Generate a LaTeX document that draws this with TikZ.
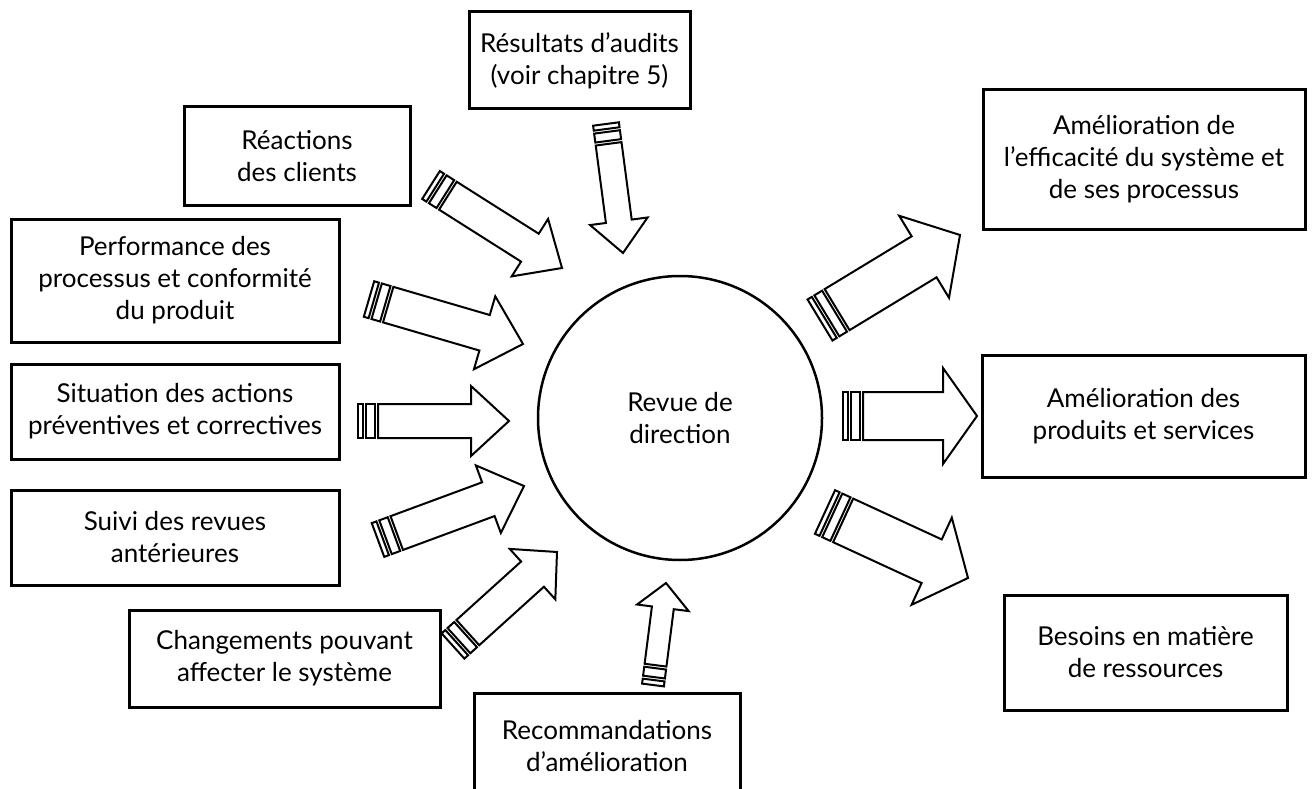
\documentclass[tikz,border=0pt]{standalone}
\usepackage{fontspec}
\setmainfont{Lato}
\usetikzlibrary{calc}
\newcommand\sarrow[5]{%
  \path let \p1=(#1), \p2=(#2) in \pgfextra{%
    \pgfmathsetmacro\tmpang{atan2(\y2-\y1,\x2-\x1)}%
    \pgfmathsetmacro\tmplen{veclen(\x2-\x1,\y2-\y1)}%
    \xdef\sang{\tmpang}\xdef\slen{\tmplen}};
  \begin{scope}[shift={(#1)}, rotate=\sang]
    \draw[sarr] (0,{-#3/2}) rectangle (5,{#3/2});
    \draw[sarr] (8,{-#3/2}) rectangle (17,{#3/2});
    \draw[sarr] (20,{-#3/2}) -- ({\slen-#5},{-#3/2}) -- ({\slen-#5},{-#4/2}) -- (\slen,0)
      -- ({\slen-#5},{#4/2}) -- ({\slen-#5},{#3/2}) -- (20,{#3/2}) -- cycle;
  \end{scope}}
\begin{document}
\begin{tikzpicture}[x=1pt,y=-1pt,
  box/.style={draw, line width=3pt, align=center, inner sep=0pt,
    font=\fontsize{26}{32}\selectfont},
  sarr/.style={draw, fill=white, line width=2pt, line join=miter}]
\useasboundingbox (0,0) rectangle (1312,789);
% boxes
\node[box, minimum width=221pt, minimum height=97pt] (res) at (579.5,60.5) {Résultats d’audits\\(voir chapitre 5)};
\node[box, minimum width=226pt, minimum height=98pt] (rea) at (297,156) {Réactions\\des clients};
\node[box, minimum width=328pt, minimum height=123pt] (perf) at (175,280.5) {Performance des\\processus et conformité\\du produit};
\node[box, minimum width=328pt, minimum height=95pt] (sit) at (175,411.5) {Situation des actions\\préventives et correctives};
\node[box, minimum width=328pt, minimum height=95pt] (sui) at (175,537.5) {Suivi des revues\\antérieures};
\node[box, minimum width=311pt, minimum height=97pt] (chg) at (284.5,658.5) {Changements pouvant\\affecter le système};
\node[box, minimum width=266pt, minimum height=107pt] (rec) at (607,746.5) {Recommandations\\d’amélioration};
\node[box, minimum width=322pt, minimum height=139pt] (eff) at (1144,159.5) {Amélioration de\\l’efficacité du système et\\de ses processus};
\node[box, minimum width=323pt, minimum height=122pt] (prod) at (1143.5,416) {Amélioration des\\produits et services};
\node[box, minimum width=283pt, minimum height=115pt] (bes) at (1145.5,652.5) {Besoins en matière\\de ressources};
% circle
\node[circle, draw, line width=2.5pt, minimum size=284pt, align=center, inner sep=0pt,
  font=\fontsize{26}{32}\selectfont] (rev) at (680,418) {Revue de\\direction};
% arrow end points
\coordinate (t1) at (606,124); \coordinate (h1) at (623,253);
\coordinate (t2) at (431,185); \coordinate (h2) at (562,268);
\coordinate (t3) at (369,299); \coordinate (h3) at (523,344);
\coordinate (t4) at (358,421); \coordinate (h4) at (509,421);
\coordinate (t5) at (378,540); \coordinate (h5) at (524,486);
\coordinate (t6) at (453,646); \coordinate (h6) at (557,552);
\coordinate (t7) at (653,685); \coordinate (h7) at (666,583);
\coordinate (t8) at (820,320); \coordinate (h8) at (960,235);
\coordinate (t9) at (843,416); \coordinate (h9) at (977,416);
\coordinate (t10) at (825,512); \coordinate (h10) at (968,578);
\sarrow{t1}{h1}{26}{58}{32}
\sarrow{t2}{h2}{33}{68}{38}
\sarrow{t3}{h3}{37}{76}{40}
\sarrow{t4}{h4}{34}{70}{38}
\sarrow{t5}{h5}{36}{72}{38}
\sarrow{t6}{h6}{34}{68}{33}
\sarrow{t7}{h7}{22}{52}{25}
\sarrow{t8}{h8}{48}{96}{42}
\sarrow{t9}{h9}{48}{96}{34}
\sarrow{t10}{h10}{48}{96}{40}
\end{tikzpicture}
\end{document}
